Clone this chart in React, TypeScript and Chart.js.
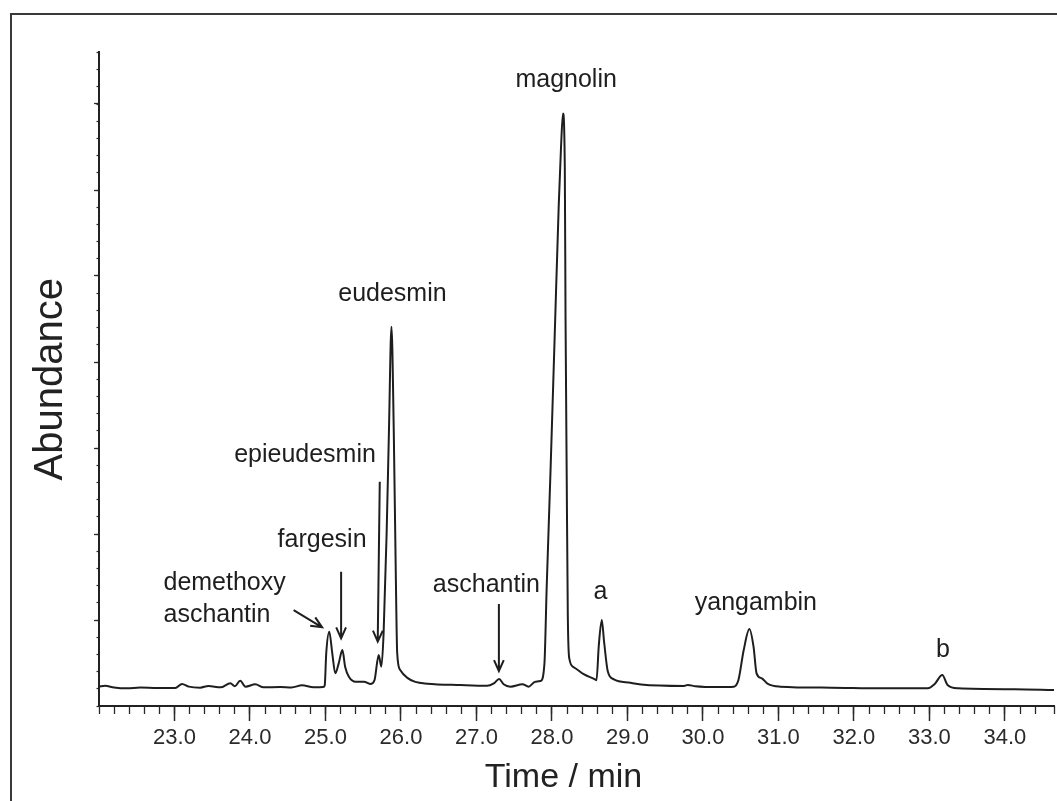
import React, { useEffect, useRef } from 'react';
import { Chart, registerables } from 'chart.js';

Chart.register(...registerables);

const FONT = '"Liberation Sans", Arial, Helvetica, sans-serif';

// x-axis tick labels (min)
const timeTickLabels = ['23.0', '24.0', '25.0', '26.0', '27.0', '28.0', '29.0', '30.0', '31.0', '32.0', '33.0', '34.0'];

// chromatogram trace: retention time (min) and abundance (arbitrary units)
const retentionTime = [
  22.0, 22.08, 22.2, 22.37, 22.55, 22.77, 23.01, 23.1, 23.19, 23.34, 23.45, 23.61, 23.74, 23.8, 23.87, 23.94,
  24.07, 24.18, 24.4, 24.55, 24.69, 24.84, 24.97, 24.99, 25.01, 25.05, 25.09, 25.13, 25.175, 25.224, 25.26, 25.31,
  25.4, 25.51, 25.6, 25.65, 25.705, 25.74, 25.77, 25.81, 25.84, 25.874, 25.905, 25.93, 25.95, 25.99, 26.08, 26.19,
  26.35, 26.79, 27.14, 27.23, 27.3, 27.36, 27.45, 27.61, 27.69, 27.78, 27.85, 27.9, 27.93, 27.98, 28.035, 28.09,
  28.12, 28.146, 28.17, 28.18, 28.195, 28.21, 28.23, 28.29, 28.42, 28.57, 28.59, 28.62, 28.66, 28.69, 28.74, 28.82,
  29.04, 29.18, 29.75, 29.8, 29.9, 30.2, 30.41, 30.47, 30.54, 30.615, 30.67, 30.71, 30.78, 30.86, 31.02, 31.7,
  32.36, 32.98, 33.07, 33.17, 33.24, 33.38, 34.13, 34.65,
];
const abundance = [
  0.225, 0.236, 0.215, 0.205, 0.214, 0.209, 0.209, 0.256, 0.225, 0.213, 0.233, 0.217, 0.264, 0.229, 0.294, 0.225,
  0.252, 0.217, 0.221, 0.215, 0.241, 0.217, 0.221, 0.24, 0.613, 0.864, 0.613, 0.38, 0.496, 0.651, 0.457, 0.341,
  0.283, 0.283, 0.256, 0.302, 0.593, 0.457, 0.845, 2.008, 3.17, 4.41, 3.17, 1.62, 0.613, 0.419, 0.33, 0.28,
  0.26, 0.244, 0.236, 0.264, 0.314, 0.252, 0.225, 0.252, 0.225, 0.283, 0.29, 0.488, 1.378, 2.71, 4.27, 5.83,
  6.5, 6.89, 6.27, 4.49, 2.71, 1.044, 0.55, 0.45, 0.37, 0.31, 0.3, 0.7, 1.0, 0.75, 0.4, 0.31,
  0.27, 0.25, 0.233, 0.245, 0.23, 0.22, 0.225, 0.302, 0.651, 0.895, 0.69, 0.38, 0.322, 0.256, 0.225, 0.213,
  0.205, 0.205, 0.256, 0.36, 0.244, 0.205, 0.194, 0.186,
];

// peak annotations (text anchored in data units: time, abundance)
const peakNames = ['magnolin', 'eudesmin', 'epieudesmin', 'fargesin', 'demethoxy', 'aschantin', 'aschantin', 'a', 'yangambin', 'b'];
const peakNameTime = [28.188, 25.887, 24.729, 24.955, 22.854, 22.854, 27.131, 28.642, 30.701, 33.178];
const peakNameLevel = [7.198, 4.709, 2.841, 1.849, 1.349, 0.98, 1.326, 1.244, 1.116, 0.573];
const peakNameAlign = ['center', 'center', 'center', 'center', 'left', 'left', 'center', 'center', 'center', 'center'];

// arrows pointing to minor peaks
const arrowFromTime = [24.578, 25.207, 25.719, 27.297];
const arrowFromLevel = [1.116, 1.562, 2.608, 1.186];
const arrowToTime = [24.955, 25.207, 25.692, 27.297];
const arrowToLevel = [0.915, 0.787, 0.748, 0.407];

const majorYTicks = [1, 2, 3, 4, 5, 6, 7];

const annotationPlugin = {
  id: 'chromAnnotations',
  beforeDraw(chart: any) {
    const { ctx } = chart;
    ctx.save();
    ctx.strokeStyle = '#3a3a3a';
    ctx.lineWidth = 2;
    ctx.beginPath();
    ctx.moveTo(11, chart.height);
    ctx.lineTo(11, 14);
    ctx.lineTo(chart.width, 14);
    ctx.stroke();
    ctx.restore();
  },
  afterDraw(chart: any) {
    const { ctx, chartArea } = chart;
    const xs = chart.scales.x;
    const ys = chart.scales.y;
    ctx.save();
    ctx.fillStyle = '#1e1e1e';
    ctx.font = `25px ${FONT}`;
    ctx.textBaseline = 'alphabetic';
    peakNames.forEach((name, i) => {
      ctx.textAlign = peakNameAlign[i];
      ctx.fillText(name, xs.getPixelForValue(peakNameTime[i]), ys.getPixelForValue(peakNameLevel[i]));
    });
    ctx.strokeStyle = '#1e1e1e';
    ctx.lineWidth = 2;
    arrowFromTime.forEach((_, i) => {
      const x1 = xs.getPixelForValue(arrowFromTime[i]);
      const y1 = ys.getPixelForValue(arrowFromLevel[i]);
      const x2 = xs.getPixelForValue(arrowToTime[i]);
      const y2 = ys.getPixelForValue(arrowToLevel[i]);
      const ang = Math.atan2(y2 - y1, x2 - x1);
      const hl = 12;
      const ha = 0.42;
      ctx.beginPath();
      ctx.moveTo(x1, y1);
      ctx.lineTo(x2, y2);
      ctx.moveTo(x2 - hl * Math.cos(ang - ha), y2 - hl * Math.sin(ang - ha));
      ctx.lineTo(x2, y2);
      ctx.lineTo(x2 - hl * Math.cos(ang + ha), y2 - hl * Math.sin(ang + ha));
      ctx.stroke();
    });
    // x-axis title
    ctx.font = `34px ${FONT}`;
    ctx.textAlign = 'center';
    ctx.fillStyle = '#222';
    ctx.fillText('Time / min', (chartArea.left + chartArea.right) / 2 - 13, chartArea.bottom + 80.7);
    ctx.restore();
  },
};

const tickColor = '#2a2a2a';

export default function App() {
  const canvasRef = useRef<HTMLCanvasElement | null>(null);

  useEffect(() => {
    const canvas = canvasRef.current;
    if (!canvas) return;
    const points = retentionTime.map((t, i) => ({ x: t, y: abundance[i] }));
    const chart = new Chart(canvas, {
      type: 'line',
      data: {
        datasets: [
          {
            label: 'TIC',
            data: points,
            borderColor: '#1e1e1e',
            borderWidth: 2,
            pointRadius: 0,
            fill: false,
            cubicInterpolationMode: 'monotone',
          },
        ],
      },
      options: {
        animation: false,
        responsive: false,
        devicePixelRatio: 1,
        layout: { padding: { top: 52.4, right: 3, bottom: 0, left: 0 } },
        plugins: { legend: { display: false }, tooltip: { enabled: false } },
        scales: {
          x: {
            type: 'linear',
            position: 'bottom',
            min: 22,
            max: 34.65,
            weight: 1,
            afterFit: (s: any) => { s.height = 95; },
            afterBuildTicks: (s: any) => { s.ticks = timeTickLabels.map((l) => ({ value: parseFloat(l) })); },
            ticks: {
              autoSkip: false,
              maxRotation: 0,
              padding: 4,
              color: '#2a2a2a',
              font: { family: FONT, size: 22 },
              callback: (_v: any, i: number) => timeTickLabels[i] ?? '',
            },
            grid: { drawOnChartArea: false, drawTicks: true, tickLength: 15, tickColor, tickWidth: 1.5 },
            border: { display: true, color: '#222', width: 2 },
          },
          xMinor: {
            type: 'linear',
            position: 'bottom',
            min: 22,
            max: 34.65,
            weight: 0,
            afterFit: (s: any) => { s.height = 0; },
            ticks: { display: false, stepSize: 0.2 },
            grid: { drawOnChartArea: false, drawTicks: true, tickLength: 8, tickColor, tickWidth: 1.3 },
            border: { display: false },
          },
          y: {
            type: 'linear',
            position: 'left',
            min: 0,
            max: 7.6,
            weight: 1,
            afterFit: (s: any) => { s.width = 99; },
            afterBuildTicks: (s: any) => { s.ticks = majorYTicks.map((v) => ({ value: v })); },
            ticks: { display: false },
            grid: { drawOnChartArea: false, drawTicks: true, tickLength: 5, tickColor, tickWidth: 1.3 },
            border: { display: true, color: '#222', width: 2 },
            title: {
              display: true,
              text: 'Abundance',
              color: '#222',
              font: { family: FONT, size: 40, lineHeight: 1 },
              padding: { top: 30.6, bottom: 0 },
            },
          },
          yMinor: {
            type: 'linear',
            position: 'left',
            min: 0,
            max: 7.6,
            weight: 0,
            afterFit: (s: any) => { s.width = 0; },
            ticks: { display: false, stepSize: 0.2 },
            grid: { drawOnChartArea: false, drawTicks: true, tickLength: 2.5, tickColor, tickWidth: 1.2 },
            border: { display: false },
          },
        },
      },
      plugins: [annotationPlugin],
    } as any);
    return () => chart.destroy();
  }, []);

  return (
    <div style={{ position: 'absolute', left: 0, top: 0, width: 1057, height: 801, background: '#fff' }}>
      <canvas ref={canvasRef} width={1057} height={801} style={{ display: 'block', width: 1057, height: 801 }} />
    </div>
  );
}
